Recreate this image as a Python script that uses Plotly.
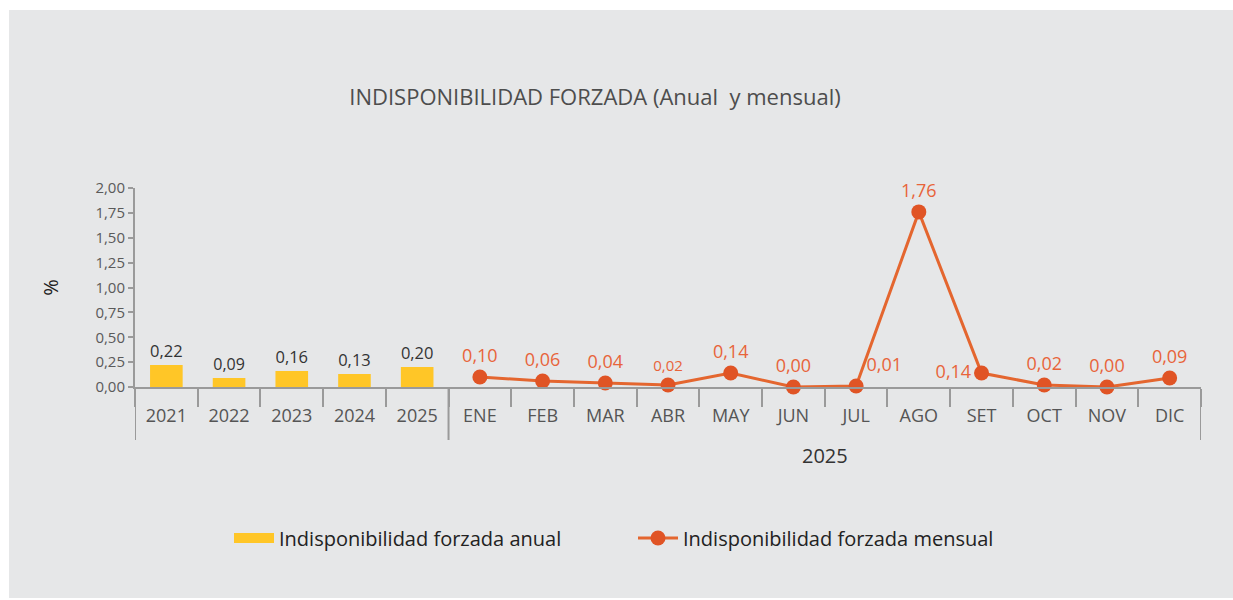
import plotly.graph_objects as go

years = ["2021", "2022", "2023", "2024", "2025"]
annual = [0.22, 0.09, 0.16, 0.13, 0.20]
months = ["ENE", "FEB", "MAR", "ABR", "MAY", "JUN", "JUL", "AGO", "SET", "OCT", "NOV", "DIC"]
monthly = [0.10, 0.06, 0.04, 0.02, 0.14, 0.00, 0.01, 1.76, 0.14, 0.02, 0.00, 0.09]
group_months = "2025"
yticks = [0, 0.25, 0.5, 0.75, 1.0, 1.25, 1.5, 1.75, 2.0]

FONT = "Open Sans"
W, H = 1233, 600
L, R, T, B = 135, 1201, 188, 387
pw, ph = R - L, B - T
AX = "#9A9A9A"

def fmt(v):
    return f"{v:.2f}".replace(".", ",")

def px_x(p):  # pixel -> paper x
    return (p - L) / pw

def px_y(p):  # pixel -> paper y
    return (B - p) / ph

n_y, n_m = len(years), len(months)
xb = list(range(n_y))
xm = list(range(n_y, n_y + n_m))
labels = years + months

fig = go.Figure()
fig.add_trace(go.Bar(
    x=xb, y=annual, name="Indisponibilidad forzada anual",
    marker=dict(color="#FFC627", line=dict(width=0)),
    width=0.52, showlegend=False, legendgroup="a",
    text=[fmt(v) for v in annual], textposition="outside",
    textfont=dict(family=FONT, color="#333333", size=[19, 16, 19, 19, 19]),
    cliponaxis=False,
))
# legend swatch for the bar series (wide rectangle)
fig.add_trace(go.Scatter(
    x=[None], y=[None], mode="lines", name="Indisponibilidad forzada anual",
    line=dict(color="#FFC627", width=14), legendgroup="a",
))
pos = ["top center"] * n_m
pos[months.index("JUL")] = "top right"
pos[months.index("SET")] = "middle left"
sizes = [18] * n_m
sizes[months.index("ABR")] = 15
fig.add_trace(go.Scatter(
    x=xm, y=monthly, name="Indisponibilidad forzada mensual",
    mode="lines+markers+text",
    line=dict(color="#E4662F", width=3),
    marker=dict(color="#E05425", size=15),
    text=[fmt(v) for v in monthly], textposition=pos,
    textfont=dict(family=FONT, color="#E8643A", size=sizes),
    cliponaxis=False,
))

# grey panel
fig.add_shape(type="rect", xref="paper", yref="paper",
              x0=px_x(9), x1=px_x(1240), y0=px_y(598), y1=px_y(10),
              fillcolor="#E6E7E8", line=dict(width=0), layer="below")
# long group dividers
for xd in [-0.5, n_y - 0.5, n_y + n_m - 0.5]:
    fig.add_shape(type="line", xref="x", yref="paper", x0=xd, x1=xd,
                  y0=0, y1=-53 / ph, line=dict(color=AX, width=2))
# group label
fig.add_annotation(x=sum(xm) / n_m, xref="x", y=px_y(455), yref="paper",
                   text=group_months, showarrow=False, xanchor="center", yanchor="middle",
                   font=dict(family=FONT, size=20, color="#333333"))

fig.update_layout(
    width=W, height=H,
    margin=dict(l=L, r=W - R, t=T, b=H - B),
    paper_bgcolor="white", plot_bgcolor="rgba(0,0,0,0)",
    separators=",.",
    font=dict(family=FONT, color="#555555"),
    title=dict(text="INDISPONIBILIDAD FORZADA (Anual&nbsp; y mensual)",
               xref="container", yref="container", x=595 / W, y=1 - 97 / H,
               xanchor="center", yanchor="middle",
               font=dict(family=FONT, size=22, color="#4D4D4D")),
    showlegend=True,
    legend=dict(orientation="h", xref="paper", yref="paper",
                x=px_x(229), y=px_y(538), xanchor="left", yanchor="middle",
                itemwidth=40, entrywidth=349, entrywidthmode="pixels",
                font=dict(family=FONT, size=20, color="#222222"),
                bgcolor="rgba(0,0,0,0)"),
)
fig.update_xaxes(
    range=[-0.5, n_y + n_m - 0.5],
    tickmode="array", tickvals=xb + xm, ticktext=labels,
    ticks="", ticklabelstandoff=11,
    minor=dict(ticks="outside", tickmode="linear", tick0=-0.5, dtick=1,
               ticklen=18, tickcolor=AX, tickwidth=2, showgrid=False),
    showline=True, linecolor=AX, linewidth=2,
    tickfont=dict(family=FONT, size=18, color="#555555"),
    showgrid=False, zeroline=False,
)
fig.update_yaxes(
    range=[0, 2], tickvals=yticks, tickformat=".2f",
    showline=True, linecolor=AX, linewidth=2,
    ticks="outside", ticklen=5, tickcolor=AX, tickwidth=2,
    tickfont=dict(family=FONT, size=15, color="#5A5A5A"),
    showgrid=False, zeroline=False,
    title=dict(text="%", standoff=31, font=dict(family=FONT, size=20, color="#222222")),
)

fig.write_html("out.html", config={"displayModeBar": False},
               post_script="document.body.style.margin='0';document.body.style.overflow='hidden';")
